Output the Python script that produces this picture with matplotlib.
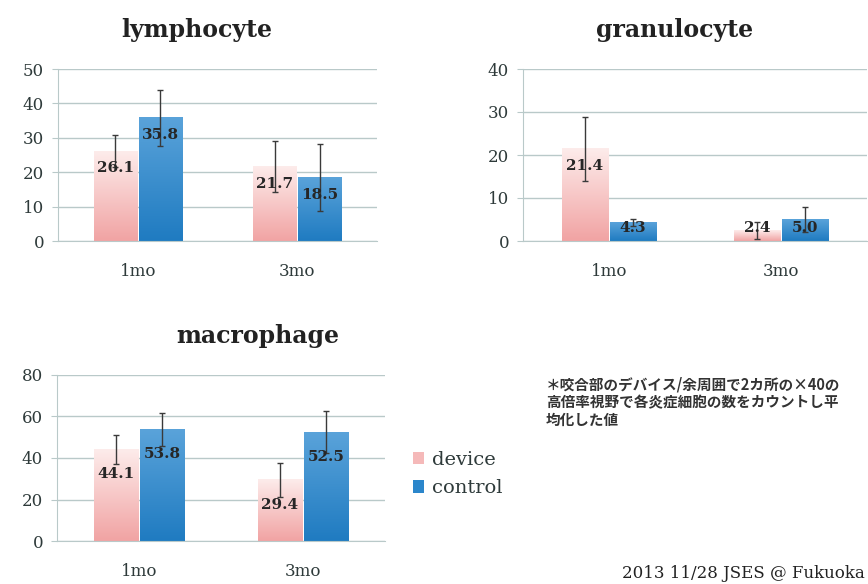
import numpy as np
import matplotlib
matplotlib.use('Agg')
import matplotlib.pyplot as plt
from matplotlib.colors import LinearSegmentedColormap
from matplotlib.patches import Patch

plt.rcParams['font.family'] = 'DejaVu Serif'

# Data
categories = ['1mo', '3mo']

lymph_device = [26.1, 21.7]
lymph_control = [35.8, 18.5]
lymph_device_err = [4.7, 7.4]
lymph_control_err = [8.1, 9.7]

gran_device = [21.4, 2.4]
gran_control = [4.3, 5.0]
gran_device_err = [7.4, 2.0]
gran_control_err = [0.8, 2.9]

macro_device = [44.1, 29.4]
macro_control = [53.8, 52.5]
macro_device_err = [7.0, 8.2]
macro_control_err = [7.9, 10.2]

note = ('＊咬合部のデバイス/余周囲で2カ所の×40の\n'
        '高倍率視野で各炎症細胞の数をカウントし平\n'
        '均化した値')
footer = '2013 11/28 JSES @ Fukuoka'

# Colours (top -> bottom of the gradient)
device_top, device_bot = '#fdeceb', '#f1a3a3'
control_top, control_bot = '#5aa3da', '#1f7bc1'
grid_c = '#b9c9c9'
text_c = '#2e3a3a'

W = 868
H = 584
fig = plt.figure(figsize=(W / 100, H / 100), dpi=100)
fig.patch.set_facecolor('white')


def px_axes(l, t, r, b):
    return fig.add_axes([l / W, 1 - b / H, (r - l) / W, (b - t) / H])


def grad_bar(ax, x, h, w, top, bot):
    cmap = LinearSegmentedColormap.from_list('g', [bot, top])
    ax.imshow(np.linspace(0, 1, 256).reshape(-1, 1), extent=(x - w / 2, x + w / 2, 0, h),
              origin='lower', cmap=cmap, aspect='auto', zorder=2)


def panel(ax, dev, ctl, dev_err, ctl_err, yticks, drop):
    ymax = yticks[-1]
    x = np.arange(len(categories))
    w, off = 0.27, 0.14
    for i in range(len(categories)):
        grad_bar(ax, x[i] - off, dev[i], w, device_top, device_bot)
        grad_bar(ax, x[i] + off, ctl[i], w, control_top, control_bot)
    ax.errorbar(x - off, dev, yerr=dev_err, fmt='none', ecolor='#3a3a3a',
                elinewidth=1, capsize=2.5, capthick=1, zorder=3)
    ax.errorbar(x + off, ctl, yerr=ctl_err, fmt='none', ecolor='#3a3a3a',
                elinewidth=1, capsize=2.5, capthick=1, zorder=3)
    for xs, vals in ((x - off, dev), (x + off, ctl)):
        for xi, v in zip(xs, vals):
            ax.text(xi, max(v - drop, 0.075 * ymax), f'{v:.1f}', ha='center', va='center',
                    fontsize=11, fontweight='bold', color='#262626', zorder=4)
    ax.set_xlim(-0.5, 1.5)
    ax.set_ylim(0, ymax)
    ax.set_yticks(yticks)
    ax.set_xticks(x)
    ax.set_xticklabels(categories)
    ax.yaxis.grid(True, color=grid_c, linewidth=1)
    ax.set_axisbelow(True)
    for s in ('top', 'right'):
        ax.spines[s].set_visible(False)
    for s in ('left', 'bottom'):
        ax.spines[s].set_color(grid_c)
    ax.tick_params(axis='y', labelsize=12, length=4, color=grid_c, pad=6, labelcolor=text_c)
    ax.tick_params(axis='x', labelsize=12, length=0, pad=16, labelcolor=text_c)


ax1 = px_axes(58, 69, 377, 241)
panel(ax1, lymph_device, lymph_control, lymph_device_err, lymph_control_err,
      [0, 10, 20, 30, 40, 50], 5)

ax2 = px_axes(523, 69, 867, 241)
panel(ax2, gran_device, gran_control, gran_device_err, gran_control_err,
      [0, 10, 20, 30, 40], 4)

ax3 = px_axes(57, 375, 385, 541)
panel(ax3, macro_device, macro_control, macro_device_err, macro_control_err,
      [0, 20, 40, 60, 80], 12)

# Panel titles
for x, y, name in ((197, 30, 'lymphocyte'), (675, 30, 'granulocyte'), (258, 336, 'macrophage')):
    fig.text(x / W, 1 - y / H, name, ha='center', va='center', fontsize=17,
             fontweight='bold', color='#222222')

# Legend
handles = [Patch(facecolor='#f5b9b9', edgecolor='none', label='device'),
           Patch(facecolor='#2b86cb', edgecolor='none', label='control')]
fig.legend(handles=handles, loc='center left', bbox_to_anchor=(395 / W, 1 - 474 / H),
           frameon=False, fontsize=14, handlelength=0.6, handleheight=0.6,
           handletextpad=0.4, labelspacing=0.55, labelcolor=text_c)

# Note and footer
fig.text(546 / W, 1 - 377 / H, note, ha='left', va='top', fontsize=10.5, fontweight='bold',
         family=['Noto Sans CJK JP', 'DejaVu Sans'], color='#333333', linespacing=1.1)
fig.text(622 / W, 1 - 573 / H, footer, ha='left', va='center', fontsize=12, color='#222222')

fig.savefig('out.png', dpi=100, facecolor='white')
